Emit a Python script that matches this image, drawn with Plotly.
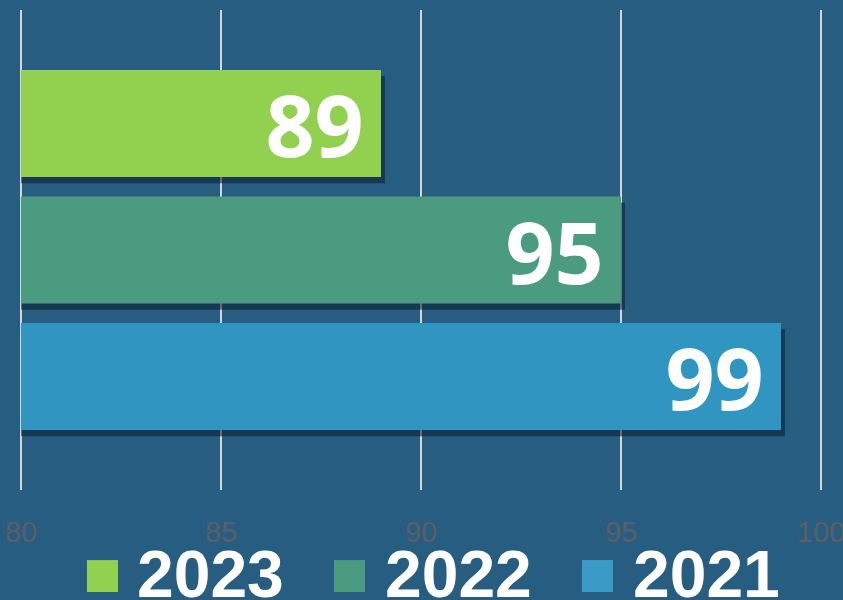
import plotly.graph_objects as go

years = ["2021", "2022", "2023"]
values = [99, 95, 89]
colors = ["#3195c2", "#4b9b80", "#92d050"]
tick_vals = [80, 85, 90, 95, 100]
tick_text = ["80", "85", "90", "95", "100"]

AXIS_MIN = 80
BG = "#265d81"
bar_w = 0.846

fig = go.Figure()

# drop shadow (derived from the same data, offset slightly)
fig.add_trace(go.Bar(
    y=years, x=[v - AXIS_MIN + 0.1 for v in values], base=AXIS_MIN, orientation="h",
    width=bar_w, offset=-bar_w / 2 - 0.05,
    marker=dict(color="rgba(10,28,45,0.55)", line=dict(width=0)),
    hoverinfo="skip", showlegend=False,
))

fig.add_trace(go.Bar(
    y=years, x=[v - AXIS_MIN for v in values], base=AXIS_MIN, orientation="h",
    width=bar_w, offset=-bar_w / 2,
    marker=dict(color=colors, line=dict(width=0)),
    text=[f"{v}\u2009" for v in values],
    textposition="inside", insidetextanchor="end",
    constraintext="none", textangle=0,
    textfont=dict(family="Open Sans", size=86, color="white", weight="bold"),
    customdata=values, hovertemplate="%{y}: %{customdata}<extra></extra>",
    showlegend=False,
))

fig.update_layout(
    width=843, height=600,
    margin=dict(l=17, r=18, t=10, b=110),
    paper_bgcolor=BG, plot_bgcolor=BG,
    barmode="overlay",
    xaxis=dict(
        range=[79.9, 100.1], tickvals=tick_vals, ticktext=tick_text,
        showgrid=True, gridcolor="#d4d6da", gridwidth=1.5,
        zeroline=False, showline=False, ticks="",
        tickfont=dict(family="Liberation Sans", size=29, color="#5c5f66"),
        ticklabelstandoff=22, automargin=False, ticklabeloverflow="allow",
    ),
    yaxis=dict(
        range=[-0.897, 2.897], showticklabels=False, showgrid=False,
        zeroline=False, showline=False, categoryorder="array", categoryarray=years,
        automargin=False,
    ),
)

# manual legend (paper x over 808 px starting at 17)
def px(x):
    return (x - 17) / 808.0

legend_items = [("2023", "#92d050", 87, 135),
                ("2022", "#4b9b80", 334, 383),
                ("2021", "#3a9cc6", 582, 631)]
for label, col, sx, tx in legend_items:
    fig.add_shape(type="rect", xref="paper", yref="paper",
                  x0=px(sx), x1=px(sx + 31), y0=-0.2125, y1=-0.146,
                  fillcolor=col, line=dict(width=0))
    fig.add_annotation(xref="paper", yref="paper", x=px(tx), y=-0.174,
                       xanchor="left", yanchor="middle", showarrow=False,
                       text=f"<b>{label}</b>",
                       font=dict(family="Liberation Sans", size=66, color="white"))

fig.write_html(
    "out.html",
    config={"displayModeBar": False},
    post_script="document.body.style.margin='0';document.body.style.overflow='hidden';",
)
